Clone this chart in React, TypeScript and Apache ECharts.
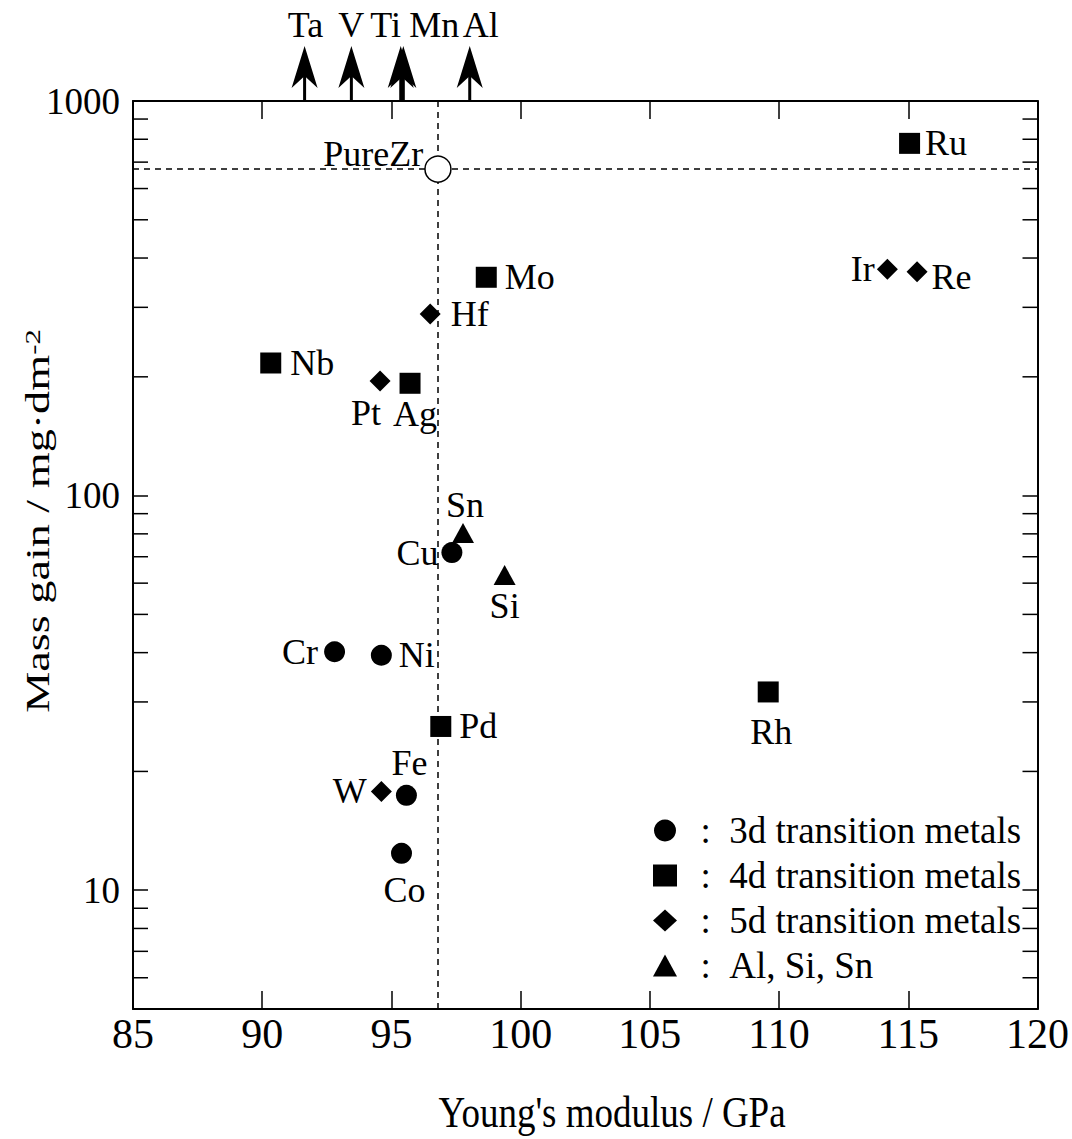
import { useEffect, useRef } from "react";
import * as echarts from "echarts";

const SERIF = "Liberation Serif";

// Young's modulus (GPa) against mass gain (mg·dm⁻²) for Zr–X alloys
const names3d = ["Cr", "Ni", "Cu", "Fe", "Co"];
const modulus3d = [92.8, 94.61, 97.34, 95.58, 95.39];
const gain3d = [40.2, 39.4, 71.7, 17.4, 12.4];

const names4d = ["Nb", "Mo", "Ru", "Rh", "Pd", "Ag"];
const modulus4d = [90.33, 98.67, 115.05, 109.58, 96.91, 95.72];
const gain4d = [216.8, 357.5, 781, 31.8, 26.0, 192.6];

const names5d = ["Hf", "W", "Re", "Ir", "Pt"];
const modulus5d = [96.5, 94.61, 115.34, 114.19, 94.56];
const gain5d = [288.5, 17.8, 369.4, 374.6, 195.2];

const namesSp = ["Si", "Sn"];
const modulusSp = [99.38, 97.77];
const gainSp = [62.9, 80.4];

const pureZrModulus = 96.8;
const pureZrGain = 672;

// elements whose mass gain runs off the top of the scale
const offscaleNames = ["Ta", "V", "Ti", "Mn", "Al"];
const offscaleModulus = [91.64, 93.45, 95.36, 95.46, 98.03];

// axis ranges and tick values
const modulusMin = 85;
const modulusMax = 120;
const modulusStep = 5;
const gainMin = 5;
const gainMax = 1000;
const gainDecades = [10, 100, 1000];
const gainMinorTicks = [6, 7, 8, 9, 20, 30, 40, 50, 60, 70, 80, 90, 200, 300, 400, 500, 600, 700, 800, 900];

const seriesNames = [
  "3d transition metals",
  "4d transition metals",
  "5d transition metals",
  "Al, Si, Sn",
];

// where each element's name sits relative to its marker
const labelPlacement: Record<string, { position: string; distance: number; offset?: [number, number] }> = {
  Cr: { position: "left", distance: 6 },
  Ni: { position: "right", distance: 7 },
  Cu: { position: "left", distance: 3 },
  Fe: { position: "top", distance: 4, offset: [3, 0] },
  Co: { position: "bottom", distance: 8, offset: [3, 0] },
  Nb: { position: "right", distance: 9 },
  Mo: { position: "right", distance: 8 },
  Ru: { position: "right", distance: 5 },
  Rh: { position: "bottom", distance: 12, offset: [3, 0] },
  Pd: { position: "right", distance: 8 },
  Ag: { position: "bottom", distance: 2, offset: [5, 0] },
  Hf: { position: "right", distance: 10 },
  W: { position: "left", distance: 4 },
  Re: { position: "right", distance: 4, offset: [0, 5] },
  Ir: { position: "left", distance: 2 },
  Pt: { position: "bottom", distance: 4, offset: [-14, 0] },
  Si: { position: "bottom", distance: 3 },
  Sn: { position: "top", distance: 0, offset: [2, 0] },
};

const arrowLabelShift: Record<string, number> = { Ta: 1, V: 0, Ti: -15, Mn: 31, Al: 11 };

const labelText = { fontFamily: SERIF, fontSize: 36, color: "#000" };
const solidMark = { color: "#000", opacity: 1 };

function points(names: string[], xs: number[], ys: number[]) {
  return names.map((n, i) => ({
    name: n,
    value: [xs[i], ys[i]],
    label: { show: true, formatter: "{b}", ...labelText, ...labelPlacement[n] },
  }));
}

export default function App() {
  const ref = useRef<HTMLDivElement>(null);

  useEffect(() => {
    const chart = echarts.init(ref.current!, null, { renderer: "svg" });

    const axisLine = { show: true, lineStyle: { color: "#000", width: 2 } };
    const xAxisBase = {
      type: "value",
      min: modulusMin,
      max: modulusMax,
      interval: modulusStep,
      splitLine: { show: false },
      axisLine,
      axisTick: { show: true, inside: true, length: 18, lineStyle: { color: "#000", width: 1.5 } },
    };
    const yAxisBase = {
      type: "log",
      logBase: 10,
      min: gainMin,
      max: gainMax,
      splitLine: { show: false },
      axisLine,
      axisTick: { show: true, inside: true, length: 15, lineStyle: { color: "#000", width: 1.5 } },
    };

    const option: any = {
      animation: false,
      backgroundColor: "#fff",
      textStyle: { fontFamily: SERIF },
      grid: { left: 133, right: 32, top: 101, bottom: 130, containLabel: false },
      xAxis: [
        {
          ...xAxisBase,
          position: "bottom",
          axisLabel: { show: true, fontFamily: SERIF, fontSize: 42, color: "#000", margin: 4 },
        },
        { ...xAxisBase, position: "top", axisLabel: { show: false } },
      ],
      yAxis: [
        {
          ...yAxisBase,
          position: "left",
          axisLabel: {
            show: true,
            fontFamily: SERIF,
            fontSize: 37,
            color: "#000",
            margin: 13,
            formatter: (v: number) => {
              const r = Math.round(v);
              return gainDecades.includes(r) ? String(r) : "";
            },
          },
        },
        { ...yAxisBase, position: "right", axisLabel: { show: false } },
      ],
      legend: {
        data: [
          { name: seriesNames[0], icon: "circle" },
          { name: seriesNames[1], icon: "rect" },
          { name: seriesNames[2], icon: "diamond" },
          { name: seriesNames[3], icon: "triangle" },
        ],
        orient: "vertical",
        left: 653,
        top: 812,
        padding: 0,
        itemWidth: 24,
        itemHeight: 22,
        itemGap: 8,
        selectedMode: false,
        formatter: (n: string) => "\u00a0\u00a0:\u00a0\u00a0" + n,
        textStyle: { fontFamily: SERIF, fontSize: 37, lineHeight: 36, color: "#000" },
      },
      graphic: [
        {
          type: "text",
          x: 612,
          y: 1112,
          scaleY: 1.2,
          style: {
            text: "Young's modulus / GPa",
            align: "center",
            verticalAlign: "middle",
            fontFamily: SERIF,
            fontSize: 37,
            fill: "#000",
          },
        },
        {
          type: "text",
          x: 38,
          y: 521,
          rotation: Math.PI / 2,
          scaleX: 1.4,
          style: {
            text: "{a|Mass gain / mg·dm}{s|-2}",
            align: "center",
            verticalAlign: "middle",
            fill: "#000",
            rich: {
              a: { fontFamily: SERIF, fontSize: 33, fill: "#000" },
              s: { fontFamily: SERIF, fontSize: 22, fill: "#000", verticalAlign: "top" },
            },
          },
        },
      ],
      series: [
        {
          // dashed guides through the pure Zr reference point
          type: "scatter",
          data: [],
          z: 1,
          markLine: {
            silent: true,
            symbol: ["none", "none"],
            label: { show: false },
            lineStyle: { color: "#000", width: 1.5, type: [6, 5], opacity: 1 },
            data: [{ xAxis: pureZrModulus }, { yAxis: pureZrGain }],
          },
        },
        {
          type: "custom",
          name: "minor ticks",
          coordinateSystem: "cartesian2d",
          silent: true,
          clip: false,
          data: gainMinorTicks.map((v) => [modulusMin, v]),
          renderItem: (_p: any, api: any) => {
            const v = api.value(1);
            const l = api.coord([modulusMin, v]);
            const r = api.coord([modulusMax, v]);
            const st = { stroke: "#000", lineWidth: 1.5 };
            return {
              type: "group",
              children: [
                { type: "line", shape: { x1: l[0], y1: l[1], x2: l[0] + 15, y2: l[1] }, style: st },
                { type: "line", shape: { x1: r[0] - 15, y1: r[1], x2: r[0], y2: r[1] }, style: st },
              ],
            };
          },
        },
        {
          type: "custom",
          name: "off scale",
          coordinateSystem: "cartesian2d",
          silent: true,
          clip: false,
          data: offscaleModulus.map((m) => [m, gainMax]),
          renderItem: (params: any, api: any) => {
            const p = api.coord([api.value(0), api.value(1)]);
            const x = p[0];
            const y = p[1];
            const name = offscaleNames[params.dataIndex];
            return {
              type: "group",
              children: [
                {
                  type: "line",
                  shape: { x1: x, y1: y, x2: x, y2: y - 30 },
                  style: { stroke: "#000", lineWidth: 3 },
                },
                {
                  type: "polygon",
                  shape: { points: [[x, y - 55], [x + 13, y - 13], [x, y - 25], [x - 13, y - 13]] },
                  style: { fill: "#000" },
                },
                {
                  type: "text",
                  style: {
                    text: name,
                    x: x + (arrowLabelShift[name] || 0),
                    y: y - 76,
                    align: "center",
                    verticalAlign: "middle",
                    fontFamily: SERIF,
                    fontSize: 36,
                    fill: "#000",
                  },
                },
              ],
            };
          },
        },
        {
          name: seriesNames[0],
          type: "scatter",
          symbol: "circle",
          symbolSize: 21,
          itemStyle: solidMark,
          z: 4,
          data: points(names3d, modulus3d, gain3d),
        },
        {
          name: seriesNames[1],
          type: "scatter",
          symbol: "rect",
          symbolSize: 21,
          itemStyle: solidMark,
          z: 4,
          data: points(names4d, modulus4d, gain4d),
        },
        {
          name: seriesNames[2],
          type: "scatter",
          symbol: "diamond",
          symbolSize: 21,
          itemStyle: solidMark,
          z: 4,
          data: points(names5d, modulus5d, gain5d),
        },
        {
          name: seriesNames[3],
          type: "scatter",
          symbol: "triangle",
          symbolSize: [22, 20],
          itemStyle: solidMark,
          z: 4,
          data: points(namesSp, modulusSp, gainSp),
        },
        {
          name: "Pure Zr",
          type: "scatter",
          symbol: "circle",
          symbolSize: 26,
          itemStyle: { color: "#fff", opacity: 1, borderColor: "#000", borderWidth: 1.5 },
          z: 5,
          data: [
            {
              name: "PureZr",
              value: [pureZrModulus, pureZrGain],
              label: {
                show: true,
                formatter: "{b}",
                ...labelText,
                position: "left",
                distance: 1,
                offset: [0, -15],
              },
            },
          ],
        },
      ],
    };

    chart.setOption(option);
    return () => chart.dispose();
  }, []);

  return (
    <div
      ref={ref}
      style={{ position: "absolute", left: 0, top: 0, width: 1072, height: 1139, background: "#fff" }}
    />
  );
}
